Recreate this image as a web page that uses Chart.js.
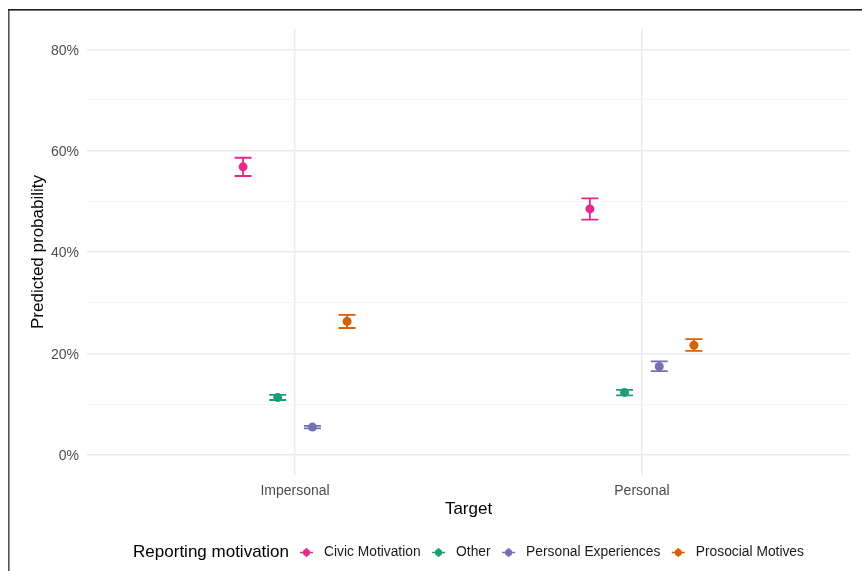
<!DOCTYPE html>
<html>
<head>
<meta charset="utf-8">
<script src="https://cdn.jsdelivr.net/npm/chart.js@4/dist/chart.umd.min.js"></script>
<style>
  html, body { margin: 0; padding: 0; background: #ffffff; }
  canvas { display: block; }
</style>
</head>
<body>
<canvas id="chart" width="862" height="571"></canvas>
<script>
// Categories on the x axis
const targets = ['Impersonal', 'Personal'];

// Reporting motivation groups (legend order)
const motivations = ['Civic Motivation', 'Other', 'Personal Experiences', 'Prosocial Motives'];
const motivationColors = ['#E7298A', '#1B9E77', '#7570B3', '#D95F02'];

// Predicted probabilities (%) with lower / upper confidence limits, per target
const civicEst = [56.8, 48.5];
const civicLow = [55.0, 46.4];
const civicHigh = [58.6, 50.6];

const otherEst = [11.3, 12.3];
const otherLow = [10.8, 11.7];
const otherHigh = [11.8, 12.8];

const personalExpEst = [5.45, 17.4];
const personalExpLow = [5.2, 16.5];
const personalExpHigh = [5.7, 18.4];

const prosocialEst = [26.3, 21.6];
const prosocialLow = [25.0, 20.5];
const prosocialHigh = [27.6, 22.8];

// Y axis ticks (%): labelled major ticks and unlabelled minor ticks
const yMajorTicks = [0, 20, 40, 60, 80];
const yMinorTicks = [10, 30, 50, 70];

const estimates = [civicEst, otherEst, personalExpEst, prosocialEst];
const lowers = [civicLow, otherLow, personalExpLow, prosocialLow];
const uppers = [civicHigh, otherHigh, personalExpHigh, prosocialHigh];

const FONT = "'Liberation Sans', Arial, Helvetica, sans-serif";
const DODGE = 0.1;

const datasets = motivations.map((name, i) => {
  const offset = (i - (motivations.length - 1) / 2) * DODGE;
  return {
    label: name,
    data: targets.map((t, j) => ({
      x: j + 1 + offset,
      y: estimates[i][j],
      lo: lowers[i][j],
      hi: uppers[i][j]
    })),
    backgroundColor: motivationColors[i],
    borderColor: motivationColors[i],
    borderWidth: 0,
    pointRadius: 4.5,
    pointHoverRadius: 4.5
  };
});

// Error bars with caps, drawn beneath the points
const errorBars = {
  id: 'errorBars',
  beforeDatasetsDraw(chart) {
    const { ctx, scales: { x, y } } = chart;
    const cap = 8.5;
    ctx.save();
    ctx.lineWidth = 1.8;
    ctx.lineCap = 'butt';
    chart.data.datasets.forEach(ds => {
      ctx.strokeStyle = ds.borderColor;
      ds.data.forEach(p => {
        const px = x.getPixelForValue(p.x);
        const yl = y.getPixelForValue(p.lo);
        const yh = y.getPixelForValue(p.hi);
        ctx.beginPath();
        ctx.moveTo(px, yl); ctx.lineTo(px, yh);
        ctx.moveTo(px - cap, yl); ctx.lineTo(px + cap, yl);
        ctx.moveTo(px - cap, yh); ctx.lineTo(px + cap, yh);
        ctx.stroke();
      });
    });
    ctx.restore();
  }
};

// Frame lines at the top and left of the figure
const frame = {
  id: 'frame',
  afterDraw(chart) {
    const { ctx } = chart;
    ctx.save();
    ctx.fillStyle = '#555555';
    ctx.fillRect(8, 9, 1.6, 571 - 9);
    ctx.fillStyle = '#1e1e1e';
    ctx.fillRect(8, 9, 862 - 8, 1.6);
    ctx.restore();
  }
};

// Horizontal legend below the plot: title followed by keyed items
const bottomLegend = {
  id: 'bottomLegend',
  afterDraw(chart) {
    const { ctx, chartArea } = chart;
    const yc = 552.5;
    const titleFont = '17px ' + FONT;
    const itemFont = '13.8px ' + FONT;
    const title = 'Reporting motivation';
    const gapTitleKey = 17.5;
    const gapKeyText = 17.5;
    const gapTextKey = 18;

    ctx.save();
    ctx.font = titleFont;
    const titleW = ctx.measureText(title).width;
    ctx.font = itemFont;
    const itemW = chart.data.datasets.map(ds => ctx.measureText(ds.label).width);
    let total = titleW + gapTitleKey;
    itemW.forEach((w, i) => {
      total += gapKeyText + w;
      if (i < itemW.length - 1) total += gapTextKey;
    });
    let xPos = (chartArea.left + chartArea.right) / 2 - total / 2;

    ctx.textBaseline = 'middle';
    ctx.textAlign = 'left';
    ctx.fillStyle = '#000000';
    ctx.font = titleFont;
    ctx.fillText(title, xPos, yc);
    xPos += titleW + gapTitleKey;

    chart.data.datasets.forEach((ds, i) => {
      const col = ds.borderColor;
      ctx.strokeStyle = col;
      ctx.fillStyle = col;
      ctx.lineWidth = 1.6;
      ctx.beginPath();
      ctx.moveTo(xPos - 6.5, yc); ctx.lineTo(xPos + 6.5, yc);
      ctx.moveTo(xPos, yc - 4.5); ctx.lineTo(xPos, yc + 4.5);
      ctx.stroke();
      ctx.beginPath();
      ctx.arc(xPos, yc, 3.6, 0, Math.PI * 2);
      ctx.fill();
      xPos += gapKeyText;
      ctx.fillStyle = '#1a1a1a';
      ctx.font = itemFont;
      ctx.fillText(ds.label, xPos, yc);
      xPos += itemW[i] + gapTextKey;
    });
    ctx.restore();
  }
};

const allYTicks = yMajorTicks.concat(yMinorTicks).sort((a, b) => a - b);

new Chart(document.getElementById('chart'), {
  type: 'scatter',
  data: { datasets },
  plugins: [errorBars, bottomLegend, frame],
  options: {
    responsive: false,
    animation: false,
    devicePixelRatio: 1,
    layout: { padding: { top: 29, right: 12, left: 0, bottom: 0 } },
    plugins: {
      legend: { display: false },
      tooltip: { enabled: false }
    },
    scales: {
      x: {
        type: 'linear',
        min: 0.4,
        max: 2.6,
        afterBuildTicks: s => { s.ticks = targets.map((t, j) => ({ value: j + 1 })); },
        afterFit: s => { s.height = 96; },
        ticks: {
          callback: (v, i) => targets[i],
          font: { family: FONT, size: 14 },
          color: '#4D4D4D',
          padding: 8,
          maxRotation: 0
        },
        grid: { color: '#EBEBEB', lineWidth: 1.5, drawTicks: false },
        border: { display: false },
        title: {
          display: true,
          text: 'Target',
          font: { family: FONT, size: 17 },
          color: '#000000',
          padding: { top: 0, bottom: 51 }
        }
      },
      y: {
        type: 'linear',
        min: -4,
        max: 84,
        afterBuildTicks: s => { s.ticks = allYTicks.map(v => ({ value: v })); },
        afterFit: s => { s.width = 87; },
        ticks: {
          callback: v => yMajorTicks.includes(v) ? v + '%' : '',
          font: { family: FONT, size: 14 },
          color: '#4D4D4D',
          padding: 8,
          labelOffset: 1.5,
          autoSkip: false
        },
        grid: {
          color: c => yMajorTicks.includes(c.tick && c.tick.value) ? '#EBEBEB' : '#F4F4F4',
          lineWidth: c => yMajorTicks.includes(c.tick && c.tick.value) ? 1.5 : 1,
          drawTicks: false
        },
        border: { display: false },
        title: {
          display: true,
          text: 'Predicted probability',
          font: { family: FONT, size: 17 },
          color: '#000000',
          padding: { top: 28, bottom: 0 }
        }
      }
    }
  }
});
</script>
</body>
</html>
